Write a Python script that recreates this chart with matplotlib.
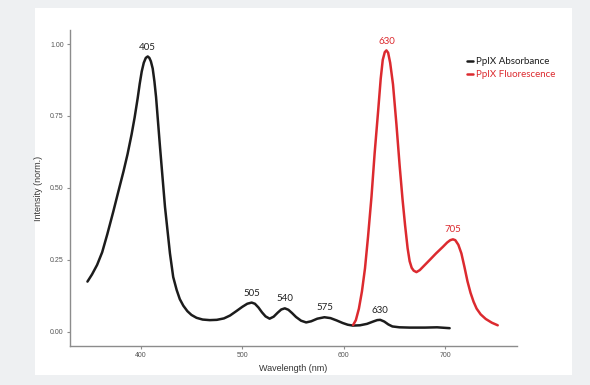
import matplotlib.pyplot as plt
from matplotlib.patches import Rectangle

# PpIX absorbance (black)
abs_wl = [347.5, 352, 357, 362, 367, 373, 378, 383, 387, 391, 394, 397, 399, 401, 403, 405,
          406.9, 408.5, 410, 411.8, 413.5, 415.1, 419, 423.9, 428.8, 432, 435.4, 438.5, 442,
          446, 450, 455, 461, 468, 475, 482, 488, 494.5, 500, 505, 509.3, 512.5, 516, 519.5,
          523, 527, 531, 535, 538.5, 542, 545.5, 549, 553, 558, 563, 568, 574, 581, 587, 593,
          599, 604, 609, 616, 623, 629, 633, 636, 640, 644, 648, 655, 665, 680, 692, 704.4]
abs_int = [0.174, 0.199, 0.232, 0.276, 0.338, 0.418, 0.488, 0.557, 0.617, 0.686, 0.745, 0.812,
           0.862, 0.905, 0.935, 0.952, 0.957, 0.952, 0.94, 0.915, 0.87, 0.816, 0.642, 0.434,
           0.272, 0.19, 0.145, 0.113, 0.09, 0.071, 0.058, 0.048, 0.042, 0.040, 0.041, 0.046,
           0.056, 0.072, 0.086, 0.097, 0.101, 0.097, 0.084, 0.067, 0.053, 0.045, 0.052, 0.066,
           0.077, 0.081, 0.076, 0.065, 0.051, 0.038, 0.032, 0.036, 0.045, 0.05, 0.047, 0.039,
           0.030, 0.024, 0.021, 0.022, 0.027, 0.035, 0.040, 0.041, 0.035, 0.025, 0.018, 0.015,
           0.014, 0.014, 0.015, 0.012]

# PpIX fluorescence (red)
fl_wl = [609.3, 612, 615, 618, 621, 624, 627.4, 630.5, 633.9, 636.5, 638.5, 640.5, 642.1,
         643.8, 645.8, 648.6, 652, 655.2, 658, 660.5, 663, 665, 667, 669, 671.7, 675, 680,
         685, 691, 697.8, 702, 705, 707.7, 710, 713, 716, 719, 722, 725, 728, 731, 735, 740,
         746, 751.8]
fl_int = [0.023, 0.04, 0.08, 0.14, 0.22, 0.33, 0.469, 0.62, 0.765, 0.88, 0.945, 0.972, 0.978,
          0.97, 0.935, 0.86, 0.72, 0.575, 0.46, 0.37, 0.29, 0.245, 0.222, 0.212, 0.207, 0.214,
          0.232, 0.25, 0.272, 0.295, 0.31, 0.318, 0.321, 0.318, 0.302, 0.272, 0.225, 0.175,
          0.135, 0.104, 0.08, 0.06, 0.044, 0.031, 0.022]

abs_peaks = ["405", "505", "540", "575", "630"]
abs_peak_x = [406.9, 509.3, 542, 581.4, 635.5]
abs_peak_y = [0.957, 0.101, 0.081, 0.05, 0.041]
fl_peaks = ["630", "705"]
fl_peak_x = [642.1, 707.7]
fl_peak_y = [0.978, 0.321]

x_ticks = [400, 500, 600, 700]
y_ticks = [0.00, 0.25, 0.50, 0.75, 1.00]

BLACK = '#1c1c1c'
RED = '#dc2a2f'
AXCOL = '#8c8c8c'

fig = plt.figure(figsize=(5.9, 3.85), dpi=100, facecolor='#eef0f2')
fig.patches.append(Rectangle((35/590, 1-375/385), 537/590, 367/385,
                             transform=fig.transFigure, facecolor='white',
                             edgecolor='none', zorder=-5))
ax = fig.add_axes([70/590, 1-346/385, 446.7/590, 316/385])
ax.set_zorder(2)
ax.set_facecolor('none')

ax.plot(abs_wl, abs_int, color=BLACK, lw=1.8, solid_joinstyle='round',
        solid_capstyle='round', label='PpIX Absorbance')
ax.plot(fl_wl, fl_int, color=RED, lw=1.8, solid_joinstyle='round',
        solid_capstyle='round', label='PpIX Fluorescence')

for t, x, y in zip(abs_peaks, abs_peak_x, abs_peak_y):
    ax.annotate(t, (x, y), xytext=(0, 3.5), textcoords='offset points',
                ha='center', va='bottom', fontsize=7, color='#222222', family='Lato')
for t, x, y in zip(fl_peaks, fl_peak_x, fl_peak_y):
    ax.annotate(t, (x, y), xytext=(0, 3.5), textcoords='offset points',
                ha='center', va='bottom', fontsize=7, color=RED, family='Lato')

ax.set_xlim(330.3, 770.5)
ax.set_ylim(-0.05, 1.049)
ax.set_xticks(x_ticks)
ax.set_yticks(y_ticks)
ax.set_yticklabels([f'{v:.2f}' for v in y_ticks])

for s in ['top', 'right']:
    ax.spines[s].set_visible(False)
for s in ['left', 'bottom']:
    ax.spines[s].set_color(AXCOL)
    ax.spines[s].set_linewidth(1.0)
ax.tick_params(colors=AXCOL, length=2.5, width=0.8, labelsize=5, pad=2)
for lab in ax.get_xticklabels() + ax.get_yticklabels():
    lab.set_family('Liberation Sans')
    lab.set_color('#555555')

ax.set_xlabel('Wavelength (nm)', fontsize=6.5, color='#333333',
              family='Liberation Sans', labelpad=3.5)
ax.set_ylabel('Intensity (norm.)', fontsize=6.5, color='#333333',
              family='Liberation Sans', labelpad=5)

leg = ax.legend(loc='upper left', bbox_to_anchor=(0.878, 0.93), frameon=False,
                handlelength=0.6, handletextpad=0.35, borderpad=0, labelspacing=0.45,
                prop={'family': 'Lato', 'size': 7}, labelcolor='linecolor')

fig.savefig('out.png', dpi=100, facecolor=fig.get_facecolor())
